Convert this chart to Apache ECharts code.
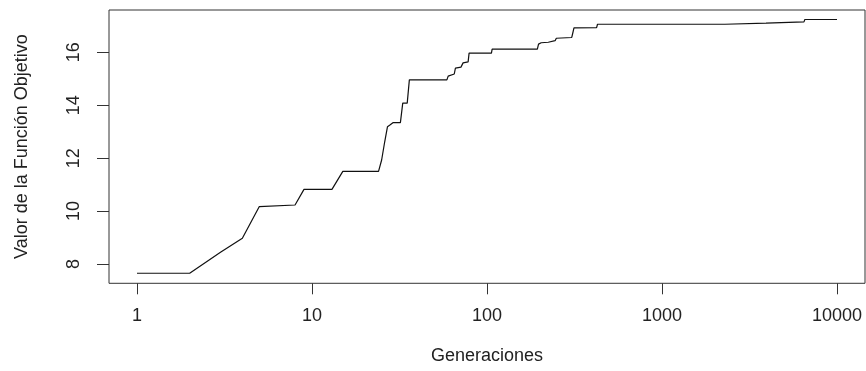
<!DOCTYPE html>
<html>
<head>
<meta charset="utf-8">
<script src="https://cdn.jsdelivr.net/npm/echarts@6/dist/echarts.min.js"></script>
<style>
  html, body { margin: 0; padding: 0; background: #fff; }
  #chart { width: 866px; height: 371px; }
</style>
</head>
<body>
<div id="chart"></div>
<script>
// best value found so far, per generation
const generations = [
  1, 2, 3, 4, 5, 8, 9, 13, 15, 24,
  25, 26, 27, 28, 29, 32, 33, 35, 36, 59,
  60, 65, 66, 71, 73, 78, 79, 106, 107, 194,
  197, 204, 224, 228, 245, 249, 305, 309, 314, 423,
  428, 2290, 2320, 3930, 3980, 6476, 6550, 10000
]
const objective = [
  7.65, 7.65, 8.44, 8.97, 10.17, 10.23, 10.82, 10.82, 11.5, 11.5,
  11.93, 12.6, 13.19, 13.26, 13.34, 13.34, 14.08, 14.08, 14.96, 14.96,
  15.1, 15.18, 15.4, 15.44, 15.6, 15.64, 15.97, 15.97, 16.12, 16.12,
  16.31, 16.36, 16.38, 16.43, 16.44, 16.53, 16.56, 16.72, 16.92, 16.93,
  17.06, 17.06, 17.1, 17.1, 17.15, 17.15, 17.24, 17.24
]
const xTickLabels = ['1', '10', '100', '1000', '10000']
const yTicks = [8, 10, 12, 14, 16]

const font = 'Liberation Sans, Arial, sans-serif'
const ink = '#222'

const chart = echarts.init(document.getElementById('chart'))

chart.setOption({
  backgroundColor: '#fff',
  animation: false,
  grid: [
    // plot frame (R's box, 4% wider than the data range)
    { left: 109, right: 1, top: 10, bottom: 87.7, show: true,
      borderColor: '#333', borderWidth: 1, backgroundColor: 'transparent' },
    // data area: x from 1 to 10000, y from 8 to 16
    { left: 137, right: 29, top: 52.3, bottom: 107 }
  ],
  xAxis: [
    {
      gridIndex: 0, type: 'value', min: 0, max: 1,
      axisLine: { show: false }, axisTick: { show: false },
      axisLabel: { show: false }, splitLine: { show: false },
      name: 'Generaciones', nameLocation: 'middle', nameGap: 64,
      nameTextStyle: { fontFamily: font, fontSize: 18, color: ink }
    },
    {
      gridIndex: 1, type: 'log', logBase: 10, min: 1, max: 10000,
      offset: 19.3,
      axisLine: { show: false },
      axisTick: { show: true, length: 11, lineStyle: { color: '#333', width: 1 } },
      splitLine: { show: false },
      axisLabel: {
        margin: 24, fontFamily: font, fontSize: 18, color: ink,
        formatter: v => xTickLabels[Math.round(Math.log10(v))] || ''
      }
    }
  ],
  yAxis: [
    {
      gridIndex: 0, type: 'value', min: 0, max: 1,
      axisLine: { show: false }, axisTick: { show: false },
      axisLabel: { show: false }, splitLine: { show: false },
      name: 'Valor de la Función Objetivo', nameLocation: 'middle', nameGap: 78,
      nameTextStyle: { fontFamily: font, fontSize: 18, color: ink }
    },
    {
      gridIndex: 1, type: 'value', min: yTicks[0], max: yTicks[yTicks.length - 1],
      interval: 2, offset: 28,
      axisLine: { show: false },
      axisTick: { show: true, length: 12, lineStyle: { color: '#333', width: 1 } },
      splitLine: { show: false },
      axisLabel: {
        rotate: 90, margin: 26, fontFamily: font, fontSize: 18, color: ink
      }
    }
  ],
  series: [
    {
      type: 'line',
      xAxisIndex: 1,
      yAxisIndex: 1,
      data: generations.map((g, i) => [g, objective[i]]),
      showSymbol: false,
      clip: false,
      lineStyle: { color: '#111', width: 1.2 }
    }
  ]
})
</script>
</body>
</html>
